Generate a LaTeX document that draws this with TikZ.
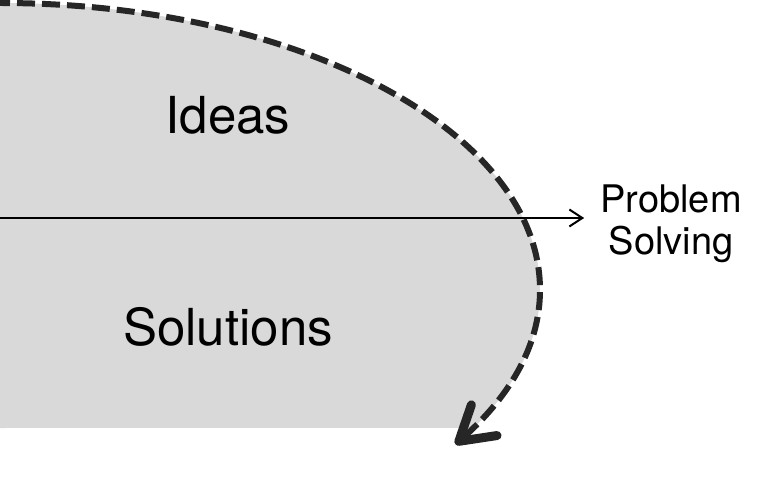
\documentclass[tikz,border=0pt]{standalone}
\usepackage{fontspec}
\setmainfont{TeX Gyre Heros}
\usetikzlibrary{arrows.meta, bending}
\definecolor{areagray}{HTML}{D9D9D9}
\definecolor{dashdark}{HTML}{262626}

\begin{document}
\begin{tikzpicture}[x=1pt, y=1pt]
\tikzstyle{bigword} = [font=\fontsize{51}{60}\selectfont, inner sep=0pt, anchor=base]
\tikzstyle{sideword} = [font=\fontsize{38}{42}\selectfont, align=center, inner sep=0pt]
\clip (0,0) rectangle (757,485);

\fill [areagray] (0,57) -- (0,482) arc [start angle=90, end angle=-28.7, x radius=540, y radius=287] -- cycle;

\node (ideas) [bigword] at (228,351) {Ideas};
\node (sol)   [bigword] at (228,140) {Solutions};
\node (ps)    [sideword] at (671,261) {Problem\\Solving};

\coordinate (start) at (0,267);
\draw [-{Straight Barb[length=13pt, width=17pt]}, line width=2pt, shorten >=16pt] (start) -- (start -| ps.west);

\coordinate (top) at (0,482);
\draw [dashdark, line width=6pt, dash pattern=on 18pt off 7pt, dash phase=8pt, -{Straight Barb[length=33pt, width=40pt, line width=9pt, round, flex=1]}] (top) arc [start angle=90, end angle=-32.5, x radius=540, y radius=287];
\end{tikzpicture}
\end{document}
